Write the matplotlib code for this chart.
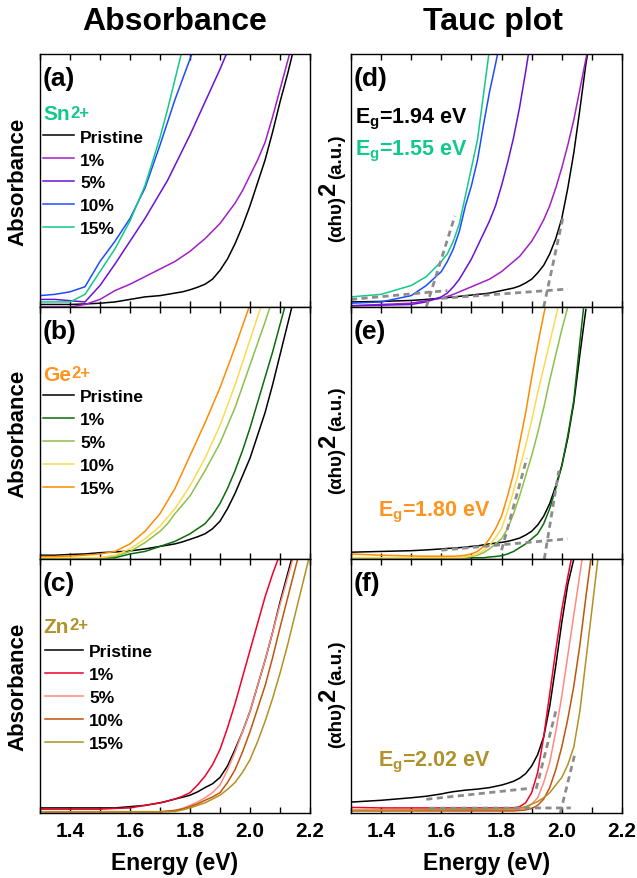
import matplotlib
matplotlib.use('Agg')
import matplotlib.pyplot as plt
from matplotlib.ticker import MultipleLocator

plt.rcParams['font.family'] = ['Liberation Sans', 'DejaVu Sans']
plt.rcParams['font.weight'] = 'bold'
plt.rcParams['mathtext.fontset'] = 'custom'
plt.rcParams['mathtext.rm'] = 'Liberation Sans:bold'
plt.rcParams['mathtext.it'] = 'Liberation Sans:bold'
plt.rcParams['mathtext.bf'] = 'Liberation Sans:bold'

# energy grids (eV)
energy_abs = [1.30, 1.35, 1.40, 1.45, 1.50, 1.55, 1.60, 1.65, 1.70,
              1.725, 1.75, 1.775, 1.80, 1.825, 1.85, 1.875, 1.90, 1.925, 1.95,
              1.975, 2.00, 2.025, 2.05, 2.075, 2.10, 2.125, 2.15, 2.175, 2.20]
energy_tauc = [1.30, 1.40, 1.50, 1.55,
               1.60, 1.62, 1.64, 1.66, 1.68, 1.70, 1.72, 1.74, 1.76, 1.78,
               1.80, 1.82, 1.84, 1.86, 1.88, 1.90, 1.92, 1.94, 1.96, 1.98,
               2.00, 2.02, 2.04, 2.06, 2.08, 2.10, 2.12, 2.14, 2.16, 2.18, 2.20]

doping = ['Pristine', '1%', '5%', '10%', '15%']

# normalised absorbance, order follows `doping`
sn_abs = [
    [0.01, 0.01, 0.01, 0.012, 0.015, 0.02, 0.03, 0.04, 0.045,
     0.05, 0.055, 0.06, 0.068, 0.078, 0.09, 0.11, 0.145, 0.19, 0.25,
     0.32, 0.40, 0.49, 0.58, 0.69, 0.81, 0.92, 1.04],
    [0.0, 0.0, 0.0, 0.01, 0.03, 0.065, 0.09, 0.12, 0.15,
     0.165, 0.18, 0.20, 0.22, 0.245, 0.27, 0.30, 0.33, 0.37, 0.41,
     0.46, 0.52, 0.58, 0.65, 0.75, 0.86, 0.97, 1.08],
    [0.03, 0.03, 0.025, 0.02, 0.085, 0.17, 0.26, 0.35, 0.45,
     0.50, 0.56, 0.62, 0.68, 0.745, 0.81, 0.875, 0.94, 1.01],
    [0.045, 0.05, 0.06, 0.08, 0.18, 0.26, 0.35, 0.47, 0.64,
     0.73, 0.82, 0.90, 0.98, 1.06],
    [0.02, 0.02, 0.02, 0.05, 0.14, 0.23, 0.34, 0.48, 0.67,
     0.78, 0.90, 1.02],
]
ge_abs = [
    [0.015, 0.015, 0.018, 0.02, 0.025, 0.028, 0.032, 0.04, 0.05,
     0.055, 0.06, 0.068, 0.078, 0.088, 0.10, 0.12, 0.15, 0.20, 0.26,
     0.33, 0.40, 0.49, 0.58, 0.69, 0.81, 0.93, 1.05],
    [0.005, 0.005, 0.005, 0.005, 0.005, 0.005, 0.02, 0.03, 0.05,
     0.06, 0.07, 0.085, 0.10, 0.12, 0.14, 0.175, 0.22, 0.28, 0.35,
     0.43, 0.52, 0.62, 0.72, 0.82, 0.93, 1.04],
    [0.005, 0.005, 0.005, 0.005, 0.005, 0.01, 0.03, 0.065, 0.11,
     0.14, 0.18, 0.215, 0.25, 0.30, 0.35, 0.405, 0.46, 0.53, 0.60,
     0.685, 0.77, 0.855, 0.94, 1.03],
    [0.005, 0.005, 0.005, 0.005, 0.005, 0.015, 0.04, 0.08, 0.13,
     0.165, 0.20, 0.245, 0.29, 0.345, 0.40, 0.465, 0.53, 0.61, 0.69,
     0.78, 0.87, 0.96, 1.05],
    [0.01, 0.01, 0.012, 0.015, 0.02, 0.03, 0.06, 0.11, 0.18,
     0.23, 0.28, 0.345, 0.41, 0.475, 0.54, 0.61, 0.68, 0.76, 0.84,
     0.925, 1.01],
]
zn_abs = [
    [0.02, 0.02, 0.02, 0.02, 0.02, 0.02, 0.025, 0.03, 0.04,
     0.047, 0.055, 0.062, 0.07, 0.083, 0.10, 0.115, 0.14, 0.185, 0.25,
     0.32, 0.40, 0.50, 0.60, 0.71, 0.83, 0.94, 1.05],
    [0.015, 0.015, 0.015, 0.015, 0.015, 0.018, 0.02, 0.03, 0.04,
     0.047, 0.055, 0.066, 0.08, 0.11, 0.145, 0.19, 0.25, 0.335, 0.43,
     0.535, 0.64, 0.745, 0.85, 0.94, 1.02],
    [0.005, 0.005, 0.005, 0.005, 0.005, 0.005, 0.005, 0.005, 0.005,
     0.008, 0.01, 0.018, 0.03, 0.043, 0.06, 0.08, 0.11, 0.17, 0.24,
     0.32, 0.40, 0.50, 0.60, 0.71, 0.82, 0.925, 1.03],
    [0.005, 0.005, 0.005, 0.005, 0.005, 0.005, 0.005, 0.005, 0.005,
     0.007, 0.01, 0.016, 0.025, 0.036, 0.05, 0.063, 0.08, 0.12, 0.17,
     0.24, 0.32, 0.41, 0.50, 0.61, 0.73, 0.845, 0.96, 1.07],
    [0.005, 0.005, 0.005, 0.005, 0.005, 0.005, 0.005, 0.005, 0.005,
     0.005, 0.006, 0.012, 0.02, 0.03, 0.04, 0.055, 0.07, 0.093, 0.12,
     0.16, 0.21, 0.28, 0.36, 0.45, 0.55, 0.66, 0.78, 0.90, 1.02],
]

# (alpha h nu)^2, normalised
sn_tauc = [
    [0.02, 0.022, 0.026, 0.03,
     0.035, 0.037, 0.04, 0.042, 0.045, 0.047, 0.05, 0.052, 0.055, 0.06,
     0.065, 0.07, 0.075, 0.083, 0.095, 0.11, 0.135, 0.165, 0.21, 0.27,
     0.35, 0.47, 0.61, 0.78, 0.96, 1.10],
    [0.005, 0.01, 0.015, 0.025,
     0.035, 0.042, 0.05, 0.06, 0.07, 0.08, 0.09, 0.10, 0.11, 0.125,
     0.14, 0.16, 0.18, 0.20, 0.23, 0.26, 0.30, 0.345, 0.40, 0.47,
     0.55, 0.64, 0.74, 0.86, 0.98, 1.10],
    [0.005, 0.007, 0.01, 0.02,
     0.04, 0.055, 0.08, 0.11, 0.15, 0.19, 0.24, 0.29, 0.34, 0.40,
     0.48, 0.57, 0.67, 0.79, 0.93, 1.08],
    [0.015, 0.02, 0.045, 0.085,
     0.14, 0.18, 0.23, 0.30, 0.40, 0.48, 0.58, 0.72, 0.85, 0.96,
     1.08],
    [0.04, 0.05, 0.085, 0.12,
     0.18, 0.21, 0.26, 0.33, 0.44, 0.55, 0.66, 0.84, 1.02],
]
ge_tauc = [
    [0.027, 0.03, 0.033, 0.036,
     0.04, 0.042, 0.043, 0.045, 0.047, 0.05, 0.052, 0.056, 0.06, 0.063,
     0.066, 0.07, 0.076, 0.083, 0.095, 0.11, 0.135, 0.17, 0.22, 0.29,
     0.37, 0.48, 0.62, 0.81, 0.99],
    [0.005, 0.005, 0.005, 0.005,
     0.005, 0.005, 0.005, 0.005, 0.005, 0.005, 0.005, 0.005, 0.008, 0.01,
     0.013, 0.02, 0.03, 0.045, 0.06, 0.08, 0.10, 0.14, 0.20, 0.28,
     0.37, 0.49, 0.63, 0.86, 1.08],
    [0.005, 0.005, 0.005, 0.005,
     0.005, 0.005, 0.005, 0.005, 0.007, 0.01, 0.015, 0.025, 0.04, 0.06,
     0.08, 0.12, 0.18, 0.25, 0.33, 0.41, 0.50, 0.60, 0.71, 0.81,
     0.91, 1.00],
    [0.005, 0.005, 0.005, 0.005,
     0.005, 0.005, 0.005, 0.005, 0.008, 0.012, 0.02, 0.033, 0.055, 0.085,
     0.12, 0.19, 0.27, 0.36, 0.45, 0.55, 0.66, 0.76, 0.86, 0.96,
     1.06],
    [0.02, 0.015, 0.012, 0.011,
     0.011, 0.011, 0.011, 0.012, 0.015, 0.02, 0.03, 0.05, 0.08, 0.12,
     0.17, 0.25, 0.34, 0.46, 0.58, 0.72, 0.85, 0.97, 1.08],
]
zn_tauc = [
    [0.043, 0.05, 0.06, 0.066,
     0.075, 0.08, 0.084, 0.087, 0.09, 0.092, 0.094, 0.097, 0.10, 0.105,
     0.11, 0.117, 0.125, 0.137, 0.155, 0.185, 0.23, 0.30, 0.42, 0.58,
     0.75, 0.90, 1.00, 1.10],
    [0.022, 0.02, 0.02, 0.02,
     0.02, 0.02, 0.02, 0.02, 0.02, 0.02, 0.02, 0.02, 0.02, 0.02,
     0.02, 0.02, 0.02, 0.025, 0.04, 0.08, 0.16, 0.30, 0.47, 0.64,
     0.80, 0.93, 1.05],
    [0.012, 0.012, 0.012, 0.012,
     0.012, 0.012, 0.012, 0.012, 0.012, 0.012, 0.012, 0.012, 0.012, 0.012,
     0.012, 0.012, 0.012, 0.015, 0.02, 0.035, 0.06, 0.12, 0.20, 0.32,
     0.46, 0.62, 0.78, 0.94, 1.10],
    [0.008, 0.008, 0.008, 0.008,
     0.008, 0.008, 0.008, 0.008, 0.008, 0.008, 0.008, 0.008, 0.008, 0.008,
     0.008, 0.008, 0.008, 0.01, 0.012, 0.018, 0.03, 0.055, 0.10, 0.17,
     0.26, 0.37, 0.50, 0.66, 0.85, 1.03],
    [0.01, 0.011, 0.012, 0.013,
     0.013, 0.013, 0.014, 0.014, 0.014, 0.015, 0.015, 0.015, 0.015, 0.016,
     0.016, 0.016, 0.016, 0.02, 0.025, 0.035, 0.045, 0.06, 0.08, 0.11,
     0.14, 0.19, 0.26, 0.40, 0.60, 0.80, 1.00],
]

# linear fits used for the band gaps: ([E0, E1], [y0, y1])
fits_sn = [([1.940, 2.005], [0.0, 0.36]), ([1.60, 2.02], [0.034, 0.071]),
           ([1.550, 1.645], [0.0, 0.36]), ([1.30, 1.62], [0.03, 0.065])]
fits_ge = [([1.800, 1.884], [0.035, 0.40]), ([1.60, 2.02], [0.035, 0.08]),
           ([1.942, 1.990], [0.0, 0.35])]
fits_zn = [([1.915, 1.980], [0.095, 0.40]), ([1.55, 1.90], [0.054, 0.098]),
           ([1.995, 2.045], [0.0, 0.24]), ([1.56, 2.03], [0.019, 0.02])]

colors_sn = ['black', '#A21FC6', '#6A12D4', '#1F4BFF', '#12C98C']
colors_ge = ['black', '#0B6B0B', '#8DC04A', '#FFD94D', '#FF8C00']
colors_zn = ['black', '#F0002A', '#FF8A80', '#C0540A', '#B39020']

ions = ['Sn', 'Ge', 'Zn']
ion_colors = ['#12C98C', '#FF9421', '#B0922A']

fig = plt.figure(figsize=(6.37, 8.79), dpi=100)
W, H = 637.0, 879.0
rows = [(55, 308), (308, 560), (560, 814)]
cols = [(40, 310), (351, 622)]


def make_ax(r, c):
    y0, y1 = rows[r]
    x0, x1 = cols[c]
    ax = fig.add_axes([x0 / W, 1 - y1 / H, (x1 - x0) / W, (y1 - y0) / H])
    ax.set_xlim(1.3, 2.2)
    ax.set_ylim(0, 1)
    ax.set_yticks([])
    ax.xaxis.set_major_locator(MultipleLocator(0.2))
    ax.xaxis.set_minor_locator(MultipleLocator(0.1))
    ax.tick_params(axis='x', which='both', direction='in', top=True, bottom=True,
                   length=4, width=1, labelsize=15, pad=6)
    if r < 2:
        ax.tick_params(axis='x', labelbottom=False)
    else:
        ax.set_xticklabels([f'{v:.1f}' for v in ax.get_xticks()], fontweight='bold')
        ax.set_xlabel('Energy (eV)', fontsize=16.5, fontweight='bold', labelpad=8)
    for s in ax.spines.values():
        s.set_linewidth(1.0)
    return ax


abs_sets = [sn_abs, ge_abs, zn_abs]
tauc_sets = [sn_tauc, ge_tauc, zn_tauc]
color_sets = [colors_sn, colors_ge, colors_zn]
fit_sets = [fits_sn, fits_ge, fits_zn]
letters = ['abc', 'def']
legend_tops = [0.702, 0.674, 0.665]
legend_x = [0.011, 0.011, 0.018]
handle_len = [1.8, 1.8, 2.2]
ion_y = [0.763, 0.734, 0.736]

for r in range(3):
    # absorbance column
    ax = make_ax(r, 0)
    for vals, col, lab in zip(abs_sets[r], color_sets[r], doping):
        ax.plot(energy_abs[:len(vals)], vals, color=col, lw=1.1, label=lab)
    ax.set_ylabel('Absorbance', fontsize=16, fontweight='bold')
    ax.yaxis.set_label_coords(-0.044, 0.5)
    ax.text(0.008, 0.905, f'({letters[0][r]})', transform=ax.transAxes,
            fontsize=19, fontweight='bold', ha='left', va='center')
    t = ax.text(0.012, ion_y[r], ions[r], transform=ax.transAxes,
                fontsize=15, color=ion_colors[r], ha='left', va='center')
    ax.annotate('2+', xy=(1.0, 1.0), xycoords=t, xytext=(0.3, -0.5),
                textcoords='offset points', fontsize=12, color=ion_colors[r],
                ha='left', va='top')
    ax.legend(loc='upper left', bbox_to_anchor=(legend_x[r], legend_tops[r]),
              frameon=False, handlelength=handle_len[r], handletextpad=0.35,
              labelspacing=0.45, borderpad=0, borderaxespad=0,
              prop={'weight': 'bold', 'size': 12.5})

    # Tauc column
    ax = make_ax(r, 1)
    for vals, col in zip(tauc_sets[r], color_sets[r]):
        ax.plot(energy_tauc[:len(vals)], vals, color=col, lw=1.1)
    for ex, ey in fit_sets[r]:
        ax.plot(ex, ey, color='#8C8C8C', lw=2.0, ls=(0, (2.2, 1.6)))
    ax.text(0.008, 0.905, f'({letters[1][r]})', transform=ax.transAxes,
            fontsize=19, fontweight='bold', ha='left', va='center')
    t1 = ax.text(-0.053, 0.26, '(αhυ)', rotation=90, transform=ax.transAxes,
                 fontsize=13.5, fontweight='bold', ha='center', va='bottom')
    t2 = ax.annotate('2', xy=(0.05, 1.0), xycoords=t1, rotation=90,
                     fontsize=17, fontweight='bold', ha='center', va='bottom')
    ax.annotate('(a.u.)', xy=(0.5, 1.0), xycoords=(t1, t2), xytext=(0, 3),
                textcoords='offset points', rotation=90, fontsize=13.5,
                fontweight='bold', ha='center', va='bottom')
    if r == 0:
        ax.text(0.014, 0.73, r'E$_g$=1.94 eV', transform=ax.transAxes,
                fontsize=15.5, color='black', va='baseline')
        ax.text(0.014, 0.605, r'E$_g$=1.55 eV', transform=ax.transAxes,
                fontsize=15.5, color='#12C98C', va='baseline')
    elif r == 1:
        ax.text(0.10, 0.172, r'E$_g$=1.80 eV', transform=ax.transAxes,
                fontsize=15.5, color='#FF9421', va='baseline')
    else:
        ax.text(0.10, 0.186, r'E$_g$=2.02 eV', transform=ax.transAxes,
                fontsize=15.5, color='#B0922A', va='baseline')

fig.text(175 / W, 1 - 22 / H, 'Absorbance', fontsize=23, fontweight='bold',
         ha='center', va='center')
fig.text(493 / W, 1 - 22 / H, 'Tauc plot', fontsize=23, fontweight='bold',
         ha='center', va='center')

fig.savefig('out.png', dpi=100)
